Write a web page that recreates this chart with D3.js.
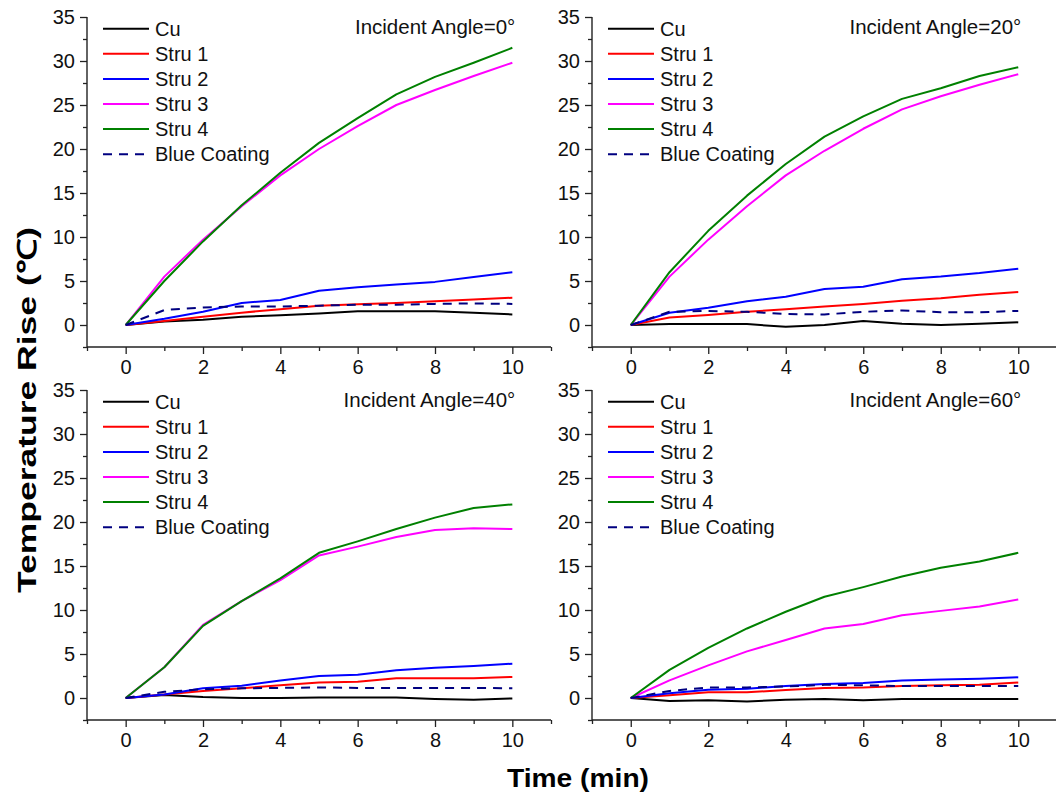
<!DOCTYPE html>
<html>
<head>
<meta charset="utf-8">
<script src="https://cdn.jsdelivr.net/npm/d3@7"></script>
<style>
  html, body { margin: 0; padding: 0; background: #fff; }
  svg { display: block; font-family: Arial, "Liberation Sans", sans-serif; }
</style>
</head>
<body>
<svg id="chart" width="1056" height="800"></svg>
<script>
// Heating time (min)
const time = [0, 1, 2, 3, 4, 5, 6, 7, 8, 9, 10];
// Incident angles, one panel each
const angles = [0, 20, 40, 60];
const seriesNames = ["Cu", "Stru 1", "Stru 2", "Stru 3", "Stru 4", "Blue Coating"];
const seriesColors = ["#000000", "#ff0000", "#0000ff", "#ff00ff", "#008000", "#000080"];

// Temperature rise (°C); each row is one incident angle (0°, 20°, 40°, 60°)
const cu = [
  [0, 0.4, 0.6, 0.95, 1.1, 1.3, 1.55, 1.55, 1.55, 1.4, 1.2],
  [0, 0.1, 0.1, 0.1, -0.2, 0, 0.45, 0.15, 0, 0.15, 0.3],
  [0, 0.35, 0.1, 0, 0, 0.05, 0.05, 0.05, -0.1, -0.2, -0.05],
  [0, -0.35, -0.25, -0.4, -0.2, -0.1, -0.25, -0.1, -0.1, -0.1, -0.1]
];
const stru1 = [
  [0, 0.45, 0.95, 1.4, 1.8, 2.2, 2.35, 2.5, 2.7, 2.9, 3.1],
  [0, 0.85, 1.15, 1.5, 1.8, 2.1, 2.4, 2.75, 3.05, 3.45, 3.75],
  [0, 0.4, 0.8, 1.1, 1.45, 1.75, 1.85, 2.25, 2.25, 2.25, 2.4],
  [0, 0.3, 0.65, 0.65, 0.9, 1.15, 1.2, 1.35, 1.45, 1.5, 1.75]
];
const stru2 = [
  [0, 0.7, 1.5, 2.5, 2.85, 3.9, 4.3, 4.6, 4.9, 5.45, 6.0],
  [0, 1.4, 1.95, 2.7, 3.2, 4.1, 4.35, 5.2, 5.5, 5.9, 6.4],
  [0, 0.4, 1.1, 1.4, 2.0, 2.5, 2.65, 3.15, 3.45, 3.65, 3.9],
  [0, 0.55, 0.95, 1.05, 1.35, 1.6, 1.7, 2.0, 2.1, 2.2, 2.35]
];
const stru3 = [
  [0, 5.5, 9.7, 13.5, 17.0, 20.0, 22.6, 25.0, 26.7, 28.3, 29.8],
  [0, 5.5, 9.7, 13.5, 17.0, 19.8, 22.3, 24.5, 26.0, 27.3, 28.5],
  [0, 3.5, 8.3, 11.0, 13.4, 16.2, 17.2, 18.3, 19.1, 19.3, 19.2],
  [0, 2.0, 3.7, 5.3, 6.6, 7.9, 8.4, 9.4, 9.9, 10.4, 11.2]
];
const stru4 = [
  [0, 5.0, 9.5, 13.6, 17.3, 20.7, 23.5, 26.2, 28.2, 29.8, 31.5],
  [0, 6.0, 10.7, 14.7, 18.3, 21.4, 23.7, 25.7, 26.9, 28.3, 29.3],
  [0, 3.5, 8.2, 11.0, 13.6, 16.5, 17.8, 19.2, 20.5, 21.6, 22.0],
  [0, 3.2, 5.7, 7.9, 9.8, 11.5, 12.6, 13.8, 14.8, 15.5, 16.5]
];
const blueCoating = [
  [0, 1.7, 2.0, 2.1, 2.1, 2.2, 2.3, 2.3, 2.4, 2.45, 2.4],
  [0, 1.5, 1.6, 1.5, 1.25, 1.2, 1.5, 1.65, 1.45, 1.45, 1.6],
  [0, 0.7, 1.0, 1.1, 1.15, 1.2, 1.15, 1.15, 1.15, 1.15, 1.1],
  [0, 0.8, 1.2, 1.2, 1.3, 1.5, 1.45, 1.35, 1.35, 1.35, 1.35]
];
const seriesValues = [cu, stru1, stru2, stru3, stru4, blueCoating];

const xTicksMajor = [0, 2, 4, 6, 8, 10];
const xTicksMinor = [-1, 1, 3, 5, 7, 9, 11];
const yTicksMajor = [0, 5, 10, 15, 20, 25, 30, 35];
const yTicksMinor = [-2.5, 2.5, 7.5, 12.5, 17.5, 22.5, 27.5, 32.5];

const svg = d3.select("#chart");

// Panel frames: column pixel ranges and row pixel ranges
const colRanges = [[87, 551], [592, 1057]];
const rowRanges = [[347, 17], [720, 390]];

angles.forEach((angle, p) => {
  const col = p % 2, row = Math.floor(p / 2);
  const x = d3.scaleLinear().domain([-1, 11]).range(colRanges[col]);
  const y = d3.scaleLinear().domain([-2.5, 35]).range(rowRanges[row]);
  const g = svg.append("g");

  const bottom = y(-2.5), left = x(-1);

  // x axis: major ticks with labels, minor ticks between
  const xAxis = g.append("g").attr("transform", `translate(0,${bottom})`)
    .call(d3.axisBottom(x).tickValues(xTicksMajor).tickSize(7).tickPadding(6).tickFormat(d3.format("d")));
  g.append("g").attr("transform", `translate(0,${bottom})`)
    .call(d3.axisBottom(x).tickValues(xTicksMinor).tickSize(4).tickFormat(""))
    .select(".domain").remove();

  // y axis
  const yAxis = g.append("g").attr("transform", `translate(${left},0)`)
    .call(d3.axisLeft(y).tickValues(yTicksMajor).tickSize(7).tickPadding(5).tickFormat(d3.format("d")));
  g.append("g").attr("transform", `translate(${left},0)`)
    .call(d3.axisLeft(y).tickValues(yTicksMinor).tickSize(4).tickFormat(""))
    .select(".domain").remove();

  g.selectAll(".tick line").attr("stroke", "#222").attr("stroke-width", 1.3);
  g.selectAll(".tick text").attr("font-size", "20px").attr("fill", "#111")
    .attr("font-family", "Arial, 'Liberation Sans', sans-serif");
  // plain axis lines without end caps
  xAxis.select(".domain").remove();
  yAxis.select(".domain").remove();
  g.append("line").attr("x1", x(-1)).attr("x2", x(11)).attr("y1", bottom).attr("y2", bottom)
    .attr("stroke", "#222").attr("stroke-width", 1.4);
  g.append("line").attr("x1", left).attr("x2", left).attr("y1", y(35)).attr("y2", bottom)
    .attr("stroke", "#222").attr("stroke-width", 1.4);

  // data lines
  const line = d3.line().x((d, i) => x(time[i])).y(d => y(d));
  seriesNames.forEach((name, s) => {
    g.append("path")
      .datum(seriesValues[s][p])
      .attr("d", line)
      .attr("fill", "none")
      .attr("stroke", seriesColors[s])
      .attr("stroke-width", 2)
      .attr("stroke-linejoin", "round")
      .attr("stroke-dasharray", s === 5 ? "9,7" : null);
  });

  // legend
  const top = y(35);
  const leg = g.append("g");
  seriesNames.forEach((name, s) => {
    const ly = top + 11.7 + s * 25.1;
    leg.append("line")
      .attr("x1", left + 16).attr("x2", left + 62)
      .attr("y1", ly).attr("y2", ly)
      .attr("stroke", seriesColors[s]).attr("stroke-width", 2)
      .attr("stroke-dasharray", s === 5 ? "9,7" : null);
    leg.append("text")
      .attr("x", left + 68).attr("y", ly + 7)
      .attr("font-size", "20px").attr("fill", "#111")
      .text(name);
  });

  // panel title
  g.append("text")
    .attr("x", x(10) + 3).attr("y", top + 17)
    .attr("text-anchor", "end")
    .attr("font-size", "20.5px").attr("fill", "#111")
    .text(`Incident Angle=${angle}°`);
});

// shared axis titles
svg.append("text")
  .attr("transform", "translate(36,410) rotate(-90)")
  .attr("text-anchor", "middle")
  .attr("font-size", "26px").attr("font-weight", "bold").attr("fill", "#000")
  .attr("textLength", 366).attr("lengthAdjust", "spacingAndGlyphs")
  .text("Temperature Rise (℃)");

svg.append("text")
  .attr("x", 578).attr("y", 787)
  .attr("text-anchor", "middle")
  .attr("font-size", "26px").attr("font-weight", "bold").attr("fill", "#000")
  .attr("textLength", 142).attr("lengthAdjust", "spacingAndGlyphs")
  .text("Time (min)");
</script>
</body>
</html>
